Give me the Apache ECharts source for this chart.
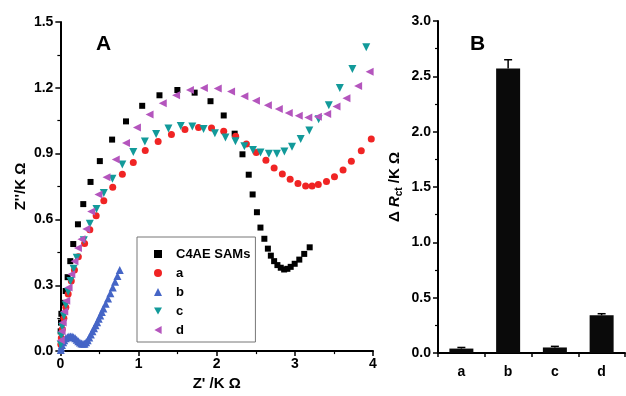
<!DOCTYPE html>
<html>
<head>
<meta charset="utf-8">
<script src="https://cdn.jsdelivr.net/npm/echarts@6/dist/echarts.min.js"></script>
<style>
  html, body { margin: 0; padding: 0; background: #fff; }
  #chart { width: 626px; height: 396px; }
</style>
</head>
<body>
<div id="chart"></div>
<script>
const font = 'Liberation Sans, Arial, sans-serif';

// panel A: Nyquist plots [Z', Z''] in kΩ
const samsPts = [
    [0.004, 0.09], [0.008, 0.13], [0.013, 0.17], [0.034, 0.22], [0.068, 0.274], [0.093, 0.337],
    [0.127, 0.41], [0.165, 0.488], [0.225, 0.578], [0.293, 0.67], [0.386, 0.771], [0.505, 0.866],
    [0.662, 0.964], [0.84, 1.047], [1.047, 1.118], [1.268, 1.166], [1.497, 1.19], [1.718, 1.178],
    [1.921, 1.139], [2.09, 1.074], [2.23, 0.991], [2.33, 0.897], [2.41, 0.804], [2.46, 0.714],
    [2.515, 0.633], [2.56, 0.563], [2.61, 0.512], [2.655, 0.467], [2.693, 0.435], [2.735, 0.41],
    [2.777, 0.392], [2.82, 0.38], [2.863, 0.372], [2.905, 0.375], [2.947, 0.384], [2.998, 0.398],
    [3.057, 0.417], [3.12, 0.443], [3.19, 0.473]
];
const aPts = [
    [0.006, 0.03], [0.012, 0.06], [0.025, 0.1], [0.045, 0.15], [0.07, 0.2], [0.1, 0.26],
    [0.14, 0.32], [0.18, 0.37], [0.23, 0.43], [0.31, 0.49], [0.377, 0.553], [0.458, 0.617],
    [0.556, 0.685], [0.67, 0.747], [0.793, 0.806], [0.933, 0.86], [1.086, 0.914], [1.251, 0.955],
    [1.421, 0.987], [1.594, 1.01], [1.768, 1.019], [1.934, 1.017], [2.09, 1.002], [2.243, 0.979],
    [2.38, 0.944], [2.506, 0.905], [2.63, 0.87], [2.735, 0.835], [2.84, 0.807], [2.94, 0.783],
    [3.04, 0.764], [3.138, 0.753], [3.22, 0.753], [3.30, 0.759], [3.405, 0.773], [3.507, 0.795],
    [3.617, 0.825], [3.723, 0.865], [3.85, 0.913], [3.978, 0.967]
];
const bPts = [
    [0.005, 0.005], [0.01, 0.015], [0.02, 0.028], [0.035, 0.04], [0.05, 0.05], [0.07, 0.058],
    [0.09, 0.063], [0.11, 0.066], [0.13, 0.067], [0.15, 0.066], [0.17, 0.063], [0.19, 0.058],
    [0.21, 0.052], [0.23, 0.045], [0.25, 0.039], [0.27, 0.035], [0.29, 0.033], [0.31, 0.034],
    [0.33, 0.04], [0.35, 0.05], [0.37, 0.062], [0.39, 0.076], [0.41, 0.09], [0.43, 0.104],
    [0.45, 0.118], [0.47, 0.132], [0.49, 0.147], [0.51, 0.162], [0.53, 0.178], [0.55, 0.194],
    [0.58, 0.216], [0.61, 0.24], [0.64, 0.264], [0.67, 0.29], [0.7, 0.316], [0.73, 0.342],
    [0.76, 0.37]
];
const cPts = [
    [0.005, 0.03], [0.012, 0.07], [0.025, 0.11], [0.045, 0.16], [0.07, 0.21], [0.1, 0.27],
    [0.13, 0.32], [0.17, 0.375], [0.21, 0.425], [0.30, 0.505], [0.377, 0.58], [0.462, 0.648],
    [0.556, 0.721], [0.666, 0.786], [0.793, 0.85], [0.933, 0.907], [1.081, 0.955], [1.225, 0.99],
    [1.383, 1.015], [1.54, 1.026], [1.688, 1.024], [1.832, 1.012], [1.977, 0.993], [2.112, 0.974],
    [2.24, 0.956], [2.354, 0.934], [2.464, 0.917], [2.561, 0.905], [2.668, 0.90], [2.77, 0.90],
    [2.866, 0.91], [2.964, 0.931], [3.075, 0.967], [3.185, 1.006], [3.304, 1.057], [3.435, 1.121],
    [3.575, 1.199], [3.736, 1.286], [3.914, 1.385]
];
const dPts = [
    [0.005, 0.05], [0.015, 0.09], [0.03, 0.13], [0.05, 0.18], [0.075, 0.23], [0.105, 0.29],
    [0.14, 0.35], [0.18, 0.41], [0.225, 0.47], [0.27, 0.51], [0.331, 0.557], [0.394, 0.636],
    [0.487, 0.714], [0.59, 0.792], [0.709, 0.873], [0.84, 0.949], [0.98, 1.019], [1.141, 1.078],
    [1.31, 1.13], [1.48, 1.166], [1.658, 1.19], [1.836, 1.199], [2.014, 1.197], [2.184, 1.183],
    [2.354, 1.162], [2.502, 1.141], [2.655, 1.121], [2.795, 1.103], [2.922, 1.085], [3.05, 1.073],
    [3.172, 1.065], [3.295, 1.068], [3.414, 1.081], [3.533, 1.115], [3.66, 1.152], [3.81, 1.208],
    [3.957, 1.273]
];

// panel B: ΔRct bars with error
const barCats = ['a', 'b', 'c', 'd'];
const barVals = [0.04, 2.57, 0.05, 0.34];
const barErr = [0.01, 0.08, 0.01, 0.015];

const triDown = 'path://M0,0 L10,0 L5,9 Z';
const triLeft = 'path://M0,5 L9,0 L9,10 Z';

const chart = echarts.init(document.getElementById('chart'));

const axisCommon = {
    axisLine: { show: true, onZero: false, lineStyle: { color: '#000', width: 2 } },
    axisTick: { show: true, inside: false, length: 5, lineStyle: { color: '#000', width: 1.5 } },
    minorTick: { show: true, splitNumber: 2, length: 3, lineStyle: { color: '#000', width: 1.2 } },
    splitLine: { show: false },
    axisLabel: { color: '#000', fontFamily: font, fontWeight: 'bold', fontSize: 14 }
};

chart.setOption({
    animation: false,
    backgroundColor: '#fff',
    textStyle: { fontFamily: font },
    grid: [
        { left: 59, right: 253, top: 22, bottom: 42 },
        { left: 438, right: 1, top: 21, bottom: 43 }
    ],
    xAxis: [
        Object.assign({}, axisCommon, {
            gridIndex: 0, type: 'value', min: 0, max: 4, interval: 1,
            name: "Z' /K Ω", nameLocation: 'middle', nameGap: 24,
            nameTextStyle: { color: '#000', fontWeight: 'bold', fontSize: 15, fontFamily: font },
            axisLabel: Object.assign({}, axisCommon.axisLabel, { margin: 6 })
        }),
        Object.assign({}, axisCommon, {
            gridIndex: 1, type: 'category', data: barCats,
            minorTick: { show: false },
            axisTick: { show: true, length: 4, lineStyle: { color: '#000', width: 1.5 } },
            axisLabel: Object.assign({}, axisCommon.axisLabel, { margin: 12 })
        })
    ],
    yAxis: [
        Object.assign({}, axisCommon, {
            gridIndex: 0, type: 'value', min: 0, max: 1.5, interval: 0.3,
            name: "Z''/K Ω", nameLocation: 'middle', nameGap: 32,
            nameTextStyle: { color: '#000', fontWeight: 'bold', fontSize: 15, fontFamily: font },
            axisLabel: Object.assign({}, axisCommon.axisLabel, {
                margin: 7, formatter: v => v.toFixed(1)
            })
        }),
        Object.assign({}, axisCommon, {
            gridIndex: 1, type: 'value', min: 0, max: 3, interval: 0.5,
            name: '{n|Δ }{r|R}{s|ct}{n| /K Ω}', nameLocation: 'middle', nameGap: 34,
            nameTextStyle: {
                rich: {
                    n: { fontFamily: font, fontWeight: 'bold', fontSize: 15, color: '#000' },
                    r: { fontFamily: font, fontWeight: 'bold', fontStyle: 'italic', fontSize: 15, color: '#000' },
                    s: { fontFamily: font, fontWeight: 'bold', fontSize: 10, color: '#000', padding: [8, 0, 0, 0] }
                }
            },
            axisLabel: Object.assign({}, axisCommon.axisLabel, {
                margin: 7, formatter: v => v.toFixed(1)
            })
        })
    ],
    legend: {
        orient: 'vertical',
        left: 137, top: 237,
        padding: [10, 5, 5, 17],
        itemGap: 5,
        itemWidth: 8, itemHeight: 8,
        borderColor: '#777', borderWidth: 1,
        textStyle: { color: '#000', fontFamily: font, fontWeight: 'bold', fontSize: 13, lineHeight: 14, padding: [0, 0, 0, 9] },
        data: [
            { name: 'C4AE SAMs', icon: 'rect' },
            { name: 'a', icon: 'circle' },
            { name: 'b', icon: 'triangle' },
            { name: 'c', icon: triDown },
            { name: 'd', icon: triLeft }
        ]
    },
    graphic: [
        { type: 'text', left: 96, top: 34, style: { text: 'A', font: 'bold 21px ' + font, fill: '#000' } },
        { type: 'text', left: 470, top: 34, style: { text: 'B', font: 'bold 21px ' + font, fill: '#000' } }
    ],
    series: [
        { name: 'C4AE SAMs', type: 'scatter', xAxisIndex: 0, yAxisIndex: 0, data: samsPts,
          symbol: 'rect', symbolSize: 6, itemStyle: { color: '#000', opacity: 1 } },
        { name: 'a', type: 'scatter', xAxisIndex: 0, yAxisIndex: 0, data: aPts,
          symbol: 'circle', symbolSize: 7, itemStyle: { color: '#f02424', opacity: 1 } },
        { name: 'b', type: 'scatter', xAxisIndex: 0, yAxisIndex: 0, data: bPts,
          symbol: 'triangle', symbolSize: 8, itemStyle: { color: '#4565c6', opacity: 1 } },
        { name: 'c', type: 'scatter', xAxisIndex: 0, yAxisIndex: 0, data: cPts,
          symbol: triDown, symbolSize: 8, itemStyle: { color: '#129a9a', opacity: 1 } },
        { name: 'd', type: 'scatter', xAxisIndex: 0, yAxisIndex: 0, data: dPts,
          symbol: triLeft, symbolSize: 8, itemStyle: { color: '#b455bd', opacity: 1 } },
        { type: 'bar', xAxisIndex: 1, yAxisIndex: 1, data: barVals, barWidth: 24,
          itemStyle: { color: '#0a0a0a' } },
        { type: 'custom', xAxisIndex: 1, yAxisIndex: 1,
          data: barVals.map((v, i) => [i, v, v + barErr[i]]),
          renderItem: (params, api) => {
              const base = api.coord([api.value(0), api.value(1)]);
              const top = api.coord([api.value(0), api.value(2)]);
              return {
                  type: 'group',
                  children: [
                      { type: 'line', shape: { x1: base[0], y1: base[1], x2: top[0], y2: top[1] },
                        style: { stroke: '#000', lineWidth: 1.5 } },
                      { type: 'line', shape: { x1: top[0] - 4, y1: top[1], x2: top[0] + 4, y2: top[1] },
                        style: { stroke: '#000', lineWidth: 1.5 } }
                  ]
              };
          } }
    ]
});
</script>
</body>
</html>
